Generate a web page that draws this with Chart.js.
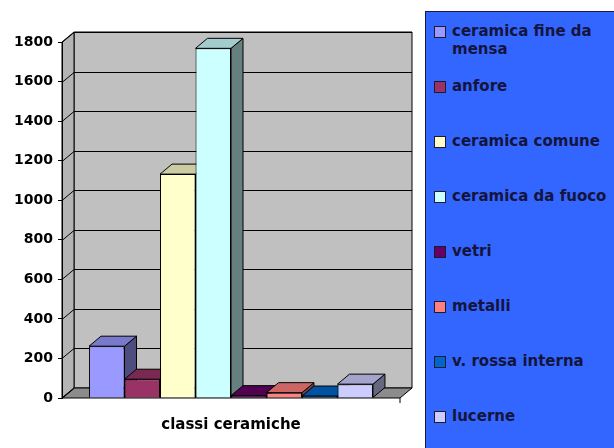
<!DOCTYPE html>
<html>
<head>
<meta charset="utf-8">
<script src="https://cdn.jsdelivr.net/npm/chart.js@4"></script>
<style>
    body { margin: 0; background: #fff; }
    #wrap { position: relative; width: 614px; height: 448px; overflow: hidden; }
    #legend {
        position: absolute; left: 425px; top: 11px; width: 200px; height: 450px;
        background: #3366ff; border: 1px solid #1a1a40; box-sizing: border-box;
    }
    .item { position: absolute; left: 8px; display: flex; align-items: flex-start; }
    .box { width: 10px; height: 10px; border: 1px solid #1a1a30; margin-top: 4px; margin-right: 6px; flex: none; }
    .lbl { width: 162px; font: bold 15px "DejaVu Sans", sans-serif; color: #14143c; line-height: 18px; }
</style>
</head>
<body>
<div id="wrap">
    <canvas id="chart" width="614" height="448"></canvas>
    <div id="legend"></div>
</div>
<script>
const categories = ['classi ceramiche'];
const classNames = ['ceramica fine da mensa', 'anfore', 'ceramica comune', 'ceramica da fuoco',
    'vetri', 'metalli', 'v. rossa interna', 'lucerne'];
const classValues = [262, 95, 1132, 1768, 12, 27, 10, 70];
const classColors = ['#9999ff', '#993366', '#ffffcc', '#ccffff', '#660066', '#ff8080', '#0066cc', '#ccccff'];
const yTicks = [0, 200, 400, 600, 800, 1000, 1200, 1400, 1600, 1800];

const DX = 12, DY = 10;

function shade(hex, f) {
    const n = parseInt(hex.slice(1), 16);
    const r = Math.round(((n >> 16) & 255) * f);
    const g = Math.round(((n >> 8) & 255) * f);
    const b = Math.round((n & 255) * f);
    return `rgb(${r},${g},${b})`;
}

function poly(ctx, pts, fill) {
    ctx.beginPath();
    ctx.moveTo(pts[0][0], pts[0][1]);
    for (let i = 1; i < pts.length; i++) ctx.lineTo(pts[i][0], pts[i][1]);
    ctx.closePath();
    ctx.fillStyle = fill;
    ctx.fill();
    ctx.stroke();
}

// back wall, left wall, floor and gridlines
const wallPlugin = {
    id: 'wall',
    beforeDraw(chart) {
        const { ctx, chartArea: a, scales: { y } } = chart;
        ctx.save();
        ctx.strokeStyle = '#000';
        ctx.lineWidth = 1;
        poly(ctx, [[a.left + DX, a.top - DY], [a.right + DX, a.top - DY], [a.right + DX, a.bottom - DY], [a.left + DX, a.bottom - DY]], '#c0c0c0');
        poly(ctx, [[a.left, a.top], [a.left + DX, a.top - DY], [a.left + DX, a.bottom - DY], [a.left, a.bottom]], '#b4b4b4');
        poly(ctx, [[a.left, a.bottom], [a.left + DX, a.bottom - DY], [a.right + DX, a.bottom - DY], [a.right, a.bottom]], '#8c8c8c');
        yTicks.forEach(v => {
            const py = Math.round(y.getPixelForValue(v)) + 0.5;
            ctx.beginPath();
            ctx.moveTo(a.left, py);
            ctx.lineTo(a.left + DX, py - DY);
            if (v > 0) ctx.lineTo(a.right + DX, py - DY);
            ctx.stroke();
        });
        ctx.beginPath();
        ctx.moveTo(a.right, a.bottom);
        ctx.lineTo(a.right, a.bottom + 5);
        ctx.stroke();
        ctx.restore();
    },
    beforeDatasetsDraw(chart) {
        const ctx = chart.ctx;
        ctx.save();
        ctx.strokeStyle = '#000';
        ctx.lineWidth = 1;
        chart.data.datasets.forEach((ds, i) => {
            const bar = chart.getDatasetMeta(i).data[0];
            const left = bar.x - bar.width / 2, right = bar.x + bar.width / 2;
            const top = bar.y, base = bar.base;
            poly(ctx, [[right, top], [right + DX, top - DY], [right + DX, base - DY], [right, base]], shade(ds.backgroundColor, 0.5));
            poly(ctx, [[left, top], [left + DX, top - DY], [right + DX, top - DY], [right, top]], shade(ds.backgroundColor, 0.8));
        });
        ctx.restore();
    }
};

new Chart(document.getElementById('chart'), {
    type: 'bar',
    data: {
        labels: categories,
        datasets: classNames.map((name, i) => ({
            label: name,
            data: [classValues[i]],
            backgroundColor: classColors[i],
            borderColor: '#000',
            borderWidth: 1,
            categoryPercentage: 0.84,
            barPercentage: 1
        }))
    },
    options: {
        responsive: false,
        animation: false,
        layout: { padding: { left: 0, right: 214, top: 42, bottom: 0 } },
        plugins: { legend: { display: false }, tooltip: { enabled: false } },
        scales: {
            x: {
                grid: { display: false },
                border: { display: false },
                ticks: { display: false },
                title: {
                    display: true,
                    text: 'classi ceramiche',
                    color: '#000',
                    font: { family: 'DejaVu Sans', size: 15, weight: 'bold' },
                    padding: { top: 0, bottom: 14 }
                },
                afterFit(scale) { scale.height = 50; }
            },
            y: {
                min: 0,
                max: 1800,
                afterBuildTicks(scale) { scale.ticks = yTicks.map(v => ({ value: v })); },
                grid: { drawOnChartArea: false, drawTicks: true, tickLength: 4, color: '#000' },
                border: { display: true, color: '#000' },
                ticks: {
                    color: '#000',
                    padding: 5,
                    font: { family: 'DejaVu Sans', size: 14, weight: 'bold' },
                    callback: value => String(value)
                },
                afterFit(scale) { scale.width = 62; }
            }
        }
    },
    plugins: [wallPlugin]
});

const legend = document.getElementById('legend');
classNames.forEach((name, i) => {
    const item = document.createElement('div');
    item.className = 'item';
    item.style.top = (10 + i * 55) + 'px';
    item.innerHTML = `<div class="box" style="background:${classColors[i]}"></div><div class="lbl">${name}</div>`;
    legend.appendChild(item);
});
</script>
</body>
</html>
